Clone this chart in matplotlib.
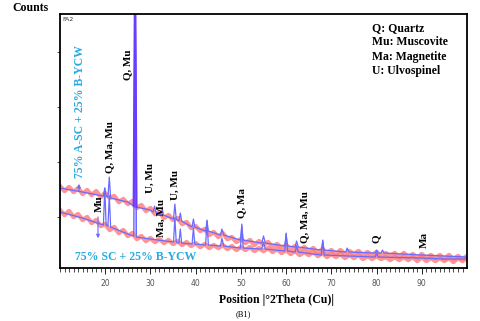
# XRD pattern : 75% A-SC + 25% B-YCW vs 75% SC + 25% B-YCW
import numpy as np
import matplotlib.pyplot as plt

## data (counts in arbitrary units)

# raw (noisy) scans, one value per degree
theta_raw = list(range(10, 101))
upper_raw = [82, 77, 81, 76, 80, 74, 78, 73, 77, 71, 75, 70, 72, 66, 69, 64, 67, 60, 63, 57,
             60, 54, 56, 50, 53, 48, 50, 44, 46, 40, 42, 37, 39, 33, 36, 31, 35, 29, 31, 26,
             29, 25, 28, 23, 27, 23, 26, 21, 24, 20, 23, 19, 22, 17, 21, 17, 20, 15, 19, 15,
             18, 14, 18, 14, 17, 14, 17, 13, 16, 13, 16, 12, 15, 12, 15, 11, 15, 11, 14, 10,
             14, 10, 13, 10, 13, 9, 13, 9, 12, 9, 12]
lower_raw = [58, 53, 57, 51, 54, 48, 51, 45, 48, 42, 44, 38, 41, 35, 38, 32, 35, 29, 32, 27,
             30, 26, 29, 25, 28, 24, 27, 23, 26, 22, 25, 21, 24, 20, 23, 20, 23, 19, 22, 18,
             21, 18, 21, 17, 20, 17, 20, 16, 19, 15, 18, 14, 17, 13, 16, 13, 16, 12, 15, 11,
             14, 11, 14, 10, 13, 10, 13, 9, 12, 9, 12, 9, 11, 8, 11, 8, 11, 8, 11, 7,
             11, 7, 10, 7, 10, 7, 10, 6, 10, 7, 10]

# fitted profiles (baseline + peaks)
theta_up = [10, 15, 19.6, 19.9, 20.2, 20.6, 20.9, 21.2, 25, 26.3, 26.6, 26.9, 30, 30.6, 30.9, 31.2,
            32.3, 32.6, 32.9, 35.1, 35.4, 35.7, 36.3, 36.6, 36.9, 39.2, 39.5, 39.8, 42.2, 42.5, 42.8,
            45.5, 45.8, 46.2, 49.9, 50.2, 50.5, 54.6, 55.0, 55.4, 59.7, 60.0, 60.3, 62.0, 62.3, 62.7,
            67.8, 68.1, 68.4, 73.2, 73.5, 73.9, 79.7, 80.0, 80.3, 81.0, 81.3, 81.6, 90, 95, 100]
counts_up = [80, 76, 72, 80, 72, 71, 91, 70, 66, 62, 300, 61, 58, 56, 62, 56,
             53, 59, 53, 49, 64, 49, 47, 55, 47, 41, 49, 41, 37, 47, 37,
             33, 39, 33, 28, 42, 28, 25, 32, 25, 22, 34, 22, 21, 27, 21,
             18, 27, 18, 16, 20, 16, 15, 18, 15, 15, 18, 15, 13, 12, 11]

theta_lo = [10, 15, 19.6, 19.9, 20.2, 20.6, 20.9, 21.2, 25, 26.3, 26.6, 26.9, 30, 35.1, 35.4, 35.7,
            36.3, 36.6, 36.9, 39.2, 39.5, 39.8, 42.2, 42.5, 42.8, 45.5, 45.8, 46.2, 49.9, 50.2, 50.5,
            54.6, 55.0, 55.4, 59.7, 60.0, 60.3, 62.0, 62.3, 62.7, 67.8, 68.1, 68.4, 79.7, 80.0, 80.3,
            90, 95, 100]
counts_lo = [56, 50, 43, 80, 43, 42, 72, 41, 34, 32, 300, 31, 29, 26, 50, 26,
             25, 39, 25, 24, 40, 24, 23, 48, 23, 22, 30, 22, 20, 44, 20,
             19, 26, 19, 17, 35, 17, 16, 22, 16, 13, 28, 13, 11, 15, 11,
             10, 9, 9]

# phase labels
labels = ["Q, Mu", "Q, Ma, Mu", "Mu", "U, Mu", "Ma, Mu", "U, Mu", "Q, Ma", "Q, Ma, Mu", "Q", "Ma"]
label_x = [25.0, 21.0, 18.6, 29.9, 32.5, 35.4, 50.2, 64.1, 80.0, 90.6]
label_y = [188, 95, 56, 75, 31, 68, 50, 25, 25, 20]

phases = ["Q: Quartz", "Mu: Muscovite", "Ma: Magnetite", "U: Ulvospinel"]

plt.rcParams['font.family'] = ['Liberation Serif', 'DejaVu Serif']

fig = plt.figure(figsize=(4.8, 3.21), dpi=100)
ax = fig.add_axes([0.125, 0.165, 0.848, 0.791])

red = '#ff7a7a'
blue = '#6a6aff'
ax.plot(theta_raw, upper_raw, color=red, lw=3.2, alpha=0.8)
ax.plot(theta_raw, lower_raw, color=red, lw=3.2, alpha=0.8)
# lavender shading at the base of the main quartz peak
ax.fill_between(theta_up[9:12], [31, 31, 31], counts_up[9:12], color='#c4bcff', lw=0)
ax.plot(theta_up, counts_up, color=blue, lw=0.9)
ax.plot(theta_lo, counts_lo, color=blue, lw=0.9)
ax.plot(theta_up[9:12], counts_up[9:12], color='#6a3cff', lw=1.6)

ax.set_xlim(10, 100)
ax.set_ylim(0, 254)

for t, x, y in zip(labels, label_x, label_y):
    ax.text(x, y, t, rotation=90, ha='center', va='bottom', fontsize=8, fontweight='bold')

cyan = '#29a9e0'
ax.text(14.4, 90, "75% A-SC + 25% B-YCW", rotation=90, ha='center', va='bottom',
        fontsize=8.5, fontweight='bold', color=cyan)
ax.text(13.3, 11, "75% SC + 25% B-YCW", ha='left', va='center',
        fontsize=8.5, fontweight='bold', color=cyan)
ax.annotate("", xy=(14.2, 87), xytext=(14.2, 74),
            arrowprops=dict(arrowstyle='-|>', color=blue, lw=0.8, mutation_scale=5))
ax.annotate("", xy=(18.4, 27), xytext=(18.4, 54),
            arrowprops=dict(arrowstyle='-|>', color=blue, lw=0.8, mutation_scale=5))

ax.text(0.005, 0.99, "FA2", transform=ax.transAxes, ha='left', va='top',
        fontsize=4.5, family='DejaVu Sans', color='#333333')

ax.set_xticks(range(20, 100, 10))
ax.set_xticks(range(10, 100), minor=True)
ax.set_yticks([51, 106, 161, 216])
ax.set_yticklabels([])
ax.tick_params(axis='x', which='major', length=4, width=0.6, labelsize=5.5,
               labelcolor='#555555', pad=4)
ax.tick_params(axis='x', which='minor', length=3, width=0.5)
ax.tick_params(axis='y', length=2.5, width=0.5)
for lab in ax.get_xticklabels():
    lab.set_family('DejaVu Sans')
for s in ax.spines.values():
    s.set_linewidth(1.3)

fig.text(0.025, 0.975, "Counts", ha='left', va='center', fontsize=8.5, fontweight='bold')
fig.text(0.577, 0.065, "Position |°2Theta (Cu)|", ha='center', va='center',
         fontsize=8.5, fontweight='bold')
fig.text(0.506, 0.022, "(B1)", ha='center', va='center', fontsize=6)

for i, p in enumerate(phases):
    fig.text(0.775, 0.913 - i * 0.045, p, ha='left', va='center', fontsize=8.5, fontweight='bold')

plt.savefig("out.png", dpi=100)
